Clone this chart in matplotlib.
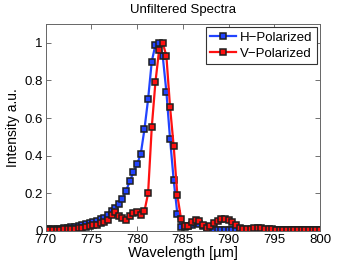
import numpy as np
import matplotlib
matplotlib.use("Agg")
import matplotlib.pyplot as plt
from matplotlib.ticker import FuncFormatter

plt.rcParams['font.family'] = ['Liberation Sans', 'DejaVu Sans']

# sampling grid of the spectrometer, 0.4 nm steps
wavelength = np.round(np.arange(770.0, 800.01, 0.4), 1)

h_polarized = [
    0.010, 0.010, 0.011, 0.012, 0.013, 0.015, 0.017, 0.019, 0.022, 0.026,
    0.030, 0.035, 0.040, 0.046, 0.053, 0.061, 0.071, 0.085, 0.105, 0.124,
    0.143, 0.172, 0.214, 0.265, 0.312, 0.355, 0.410, 0.540, 0.700, 0.900,
    0.990, 1.000, 0.930, 0.740, 0.490, 0.270, 0.090, 0.022, 0.020, 0.027,
    0.034, 0.040, 0.036, 0.026, 0.014, 0.008, 0.006, 0.005, 0.005, 0.005,
    0.005, 0.005, 0.005, 0.005, 0.005, 0.005, 0.005, 0.005, 0.005, 0.005,
    0.005, 0.005, 0.005, 0.004, 0.004, 0.004, 0.004, 0.004, 0.004, 0.004,
    0.004, 0.004, 0.004, 0.004, 0.004, 0.004,
]

v_polarized = [
    0.005, 0.005, 0.006, 0.006, 0.007, 0.008, 0.009, 0.011, 0.013, 0.015,
    0.018, 0.021, 0.025, 0.029, 0.034, 0.040, 0.048, 0.060, 0.085, 0.100,
    0.080, 0.068, 0.058, 0.078, 0.097, 0.100, 0.085, 0.105, 0.200, 0.550,
    0.790, 0.960, 1.000, 0.930, 0.660, 0.450, 0.190, 0.065, 0.025, 0.028,
    0.045, 0.057, 0.052, 0.033, 0.018, 0.025, 0.040, 0.055, 0.065, 0.066,
    0.058, 0.045, 0.030, 0.018, 0.013, 0.012, 0.013, 0.014, 0.015, 0.014,
    0.013, 0.011, 0.009, 0.007, 0.005, 0.004, 0.003, 0.003, 0.003, 0.003,
    0.003, 0.003, 0.003, 0.003, 0.003, 0.003,
]

x_ticks = [770, 775, 780, 785, 790, 795, 800]
y_ticks = [0, 0.2, 0.4, 0.6, 0.8, 1.0]

fig = plt.figure(figsize=(3.54, 2.67), dpi=100)
ax = fig.add_axes([0.129, 0.135, 0.775, 0.775])

ax.plot(wavelength, h_polarized, '-s', color='#2244ff', lw=1.6,
        ms=3.9, mfc='#2244ff', mec='0.12', mew=1.1, label='H\u2212Polarized')
ax.plot(wavelength, v_polarized, '-s', color='#ff1111', lw=1.6,
        ms=3.9, mfc='#ff1111', mec='0.12', mew=1.1, label='V\u2212Polarized')

ax.set_xlim(770, 800)
ax.set_ylim(0, 1.1)
ax.set_xticks(x_ticks)
ax.set_yticks(y_ticks)
ax.yaxis.set_major_formatter(FuncFormatter(lambda v, p: '%g' % v))
ax.tick_params(direction='in', length=3.5, width=0.6, top=True, right=True,
               labelsize=9.5, colors='0.35', labelcolor='black', pad=2)
for s in ax.spines.values():
    s.set_color('0.4')
    s.set_linewidth(0.7)

ax.set_xlabel('Wavelength [\u00b5m]', fontsize=10.5, labelpad=0)
ax.set_ylabel('Intensity a.u.', fontsize=10, labelpad=3)
ax.set_title('Unfiltered Spectra', fontsize=9.5, pad=8)

leg = ax.legend(loc='upper right', fontsize=9.5, handlelength=2.0,
                borderpad=0.3, labelspacing=0.3, handletextpad=0.3,
                borderaxespad=0.25, fancybox=False, framealpha=1)
leg.get_frame().set_edgecolor('0.2')
leg.get_frame().set_linewidth(0.8)

fig.savefig('out.png', dpi=100)
